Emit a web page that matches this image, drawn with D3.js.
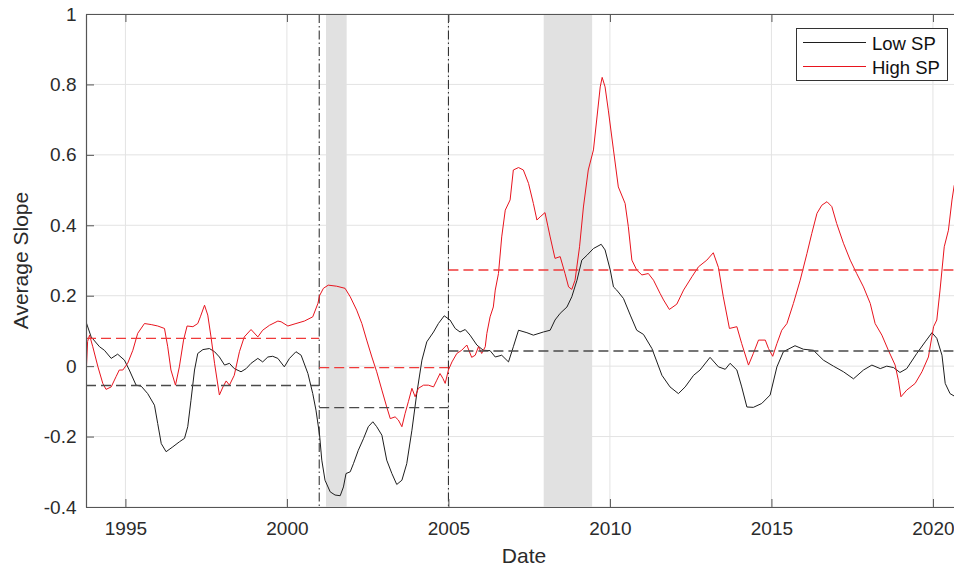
<!DOCTYPE html>
<html>
<head>
<meta charset="utf-8">
<script src="https://cdn.jsdelivr.net/npm/d3@7/dist/d3.min.js"></script>
<style>
  body { margin: 0; background: #fff; }
  svg { display: block; font-family: "Liberation Sans", Arial, Helvetica, sans-serif; }
</style>
</head>
<body>
<svg id="chart" width="954" height="569"></svg>
<script>
// Low SP series (decimal year, average slope)
const lowDates = [1993.78, 1993.94, 1994.20, 1994.35, 1994.56, 1994.76, 1994.97, 1995.12, 1995.33, 1995.49,
  1995.69, 1995.90, 1996.00, 1996.11, 1996.26, 1996.47, 1996.67, 1996.83, 1996.93, 1997.03,
  1997.14, 1997.24, 1997.40, 1997.60, 1997.76, 1997.91, 1998.07, 1998.22, 1998.37, 1998.58,
  1998.74, 1998.89, 1999.10, 1999.25, 1999.41, 1999.56, 1999.72, 1999.92, 2000.08, 2000.28,
  2000.44, 2000.65, 2000.80, 2000.90, 2001.01, 2001.08, 2001.18, 2001.34, 2001.49, 2001.65,
  2001.75, 2001.83, 2001.96, 2002.06, 2002.21, 2002.37, 2002.52, 2002.66, 2002.78, 2002.94,
  2003.09, 2003.25, 2003.40, 2003.56, 2003.71, 2003.87, 2004.02, 2004.18, 2004.33, 2004.54,
  2004.69, 2004.87, 2005.05, 2005.21, 2005.36, 2005.52, 2005.67, 2005.88, 2006.08, 2006.29,
  2006.45, 2006.65, 2006.86, 2007.01, 2007.17, 2007.43, 2007.63, 2007.94, 2008.15, 2008.30,
  2008.46, 2008.67, 2008.82, 2008.98, 2009.13, 2009.29, 2009.49, 2009.73, 2009.85, 2010.01,
  2010.11, 2010.21, 2010.42, 2010.63, 2010.83, 2011.04, 2011.30, 2011.61, 2011.86, 2012.12,
  2012.33, 2012.59, 2012.79, 2013.10, 2013.36, 2013.57, 2013.72, 2013.93, 2014.08, 2014.24,
  2014.44, 2014.70, 2014.96, 2015.17, 2015.37, 2015.73, 2015.99, 2016.30, 2016.61, 2016.92,
  2017.23, 2017.54, 2017.85, 2018.11, 2018.37, 2018.57, 2018.78, 2018.98, 2019.19, 2019.50,
  2019.76, 2019.97, 2020.12, 2020.28, 2020.38, 2020.53, 2020.66];
const lowValues = [0.126, 0.083, 0.055, 0.045, 0.022, 0.034, 0.017, -0.011, -0.054, -0.057,
  -0.078, -0.111, -0.163, -0.22, -0.243, -0.229, -0.215, -0.205, -0.172, -0.097,
  -0.011, 0.036, 0.047, 0.05, 0.041, 0.026, 0.003, 0.008, -0.007, -0.016,
  -0.007, 0.008, 0.022, 0.012, 0.026, 0.028, 0.022, -0.002, 0.022, 0.041,
  0.031, -0.021, -0.078, -0.125, -0.195, -0.267, -0.324, -0.357, -0.366, -0.368,
  -0.343, -0.305, -0.30, -0.277, -0.239, -0.206, -0.172, -0.158, -0.172, -0.196,
  -0.267, -0.305, -0.336, -0.324, -0.277, -0.182, -0.078, 0.017, 0.069, 0.097,
  0.121, 0.143, 0.131, 0.107, 0.097, 0.104, 0.088, 0.06, 0.045, 0.044,
  0.026, 0.031, 0.012, 0.055, 0.102, 0.095, 0.088, 0.097, 0.102, 0.131,
  0.15, 0.168, 0.197, 0.244, 0.301, 0.315, 0.334, 0.346, 0.33, 0.273,
  0.225, 0.216, 0.192, 0.145, 0.102, 0.09, 0.05, -0.026, -0.059, -0.078,
  -0.059, -0.026, -0.011, 0.025, -0.002, -0.009, 0.008, -0.011, -0.059, -0.116,
  -0.117, -0.106, -0.082, -0.002, 0.041, 0.058, 0.048, 0.045, 0.017, 0,
  -0.016, -0.036, -0.011, 0.003, -0.007, 0, -0.004, -0.018, -0.007, 0.036,
  0.069, 0.095, 0.079, 0.031, -0.049, -0.078, -0.085];

// High SP series
const highDates = [1993.78, 1993.83, 1993.89, 1993.99, 1994.15, 1994.30, 1994.40, 1994.56, 1994.71, 1994.81,
  1994.92, 1995.07, 1995.23, 1995.38, 1995.59, 1995.80, 1996.00, 1996.21, 1996.31, 1996.41,
  1996.55, 1996.67, 1996.80, 1996.91, 1997.09, 1997.24, 1997.32, 1997.45, 1997.55, 1997.65,
  1997.76, 1997.91, 1998.02, 1998.12, 1998.22, 1998.37, 1998.53, 1998.68, 1998.89, 1999.10,
  1999.25, 1999.46, 1999.72, 1999.82, 2000.03, 2000.28, 2000.54, 2000.80, 2000.96, 2001.01,
  2001.13, 2001.28, 2001.54, 2001.80, 2001.96, 2002.16, 2002.32, 2002.47, 2002.63, 2002.78,
  2002.94, 2003.09, 2003.20, 2003.35, 2003.45, 2003.56, 2003.66, 2003.76, 2003.87, 2003.97,
  2004.07, 2004.23, 2004.38, 2004.54, 2004.64, 2004.74, 2004.83, 2004.90, 2005.00, 2005.11,
  2005.26, 2005.41, 2005.57, 2005.72, 2005.83, 2005.93, 2006.03, 2006.14, 2006.19, 2006.29,
  2006.39, 2006.45, 2006.55, 2006.65, 2006.76, 2006.91, 2007.01, 2007.17, 2007.32, 2007.48,
  2007.63, 2007.74, 2007.84, 2007.99, 2008.15, 2008.30, 2008.46, 2008.61, 2008.72, 2008.82,
  2008.92, 2009.06, 2009.18, 2009.33, 2009.49, 2009.59, 2009.70, 2009.76, 2009.85, 2009.95,
  2010.11, 2010.26, 2010.47, 2010.57, 2010.68, 2010.83, 2010.99, 2011.19, 2011.35, 2011.55,
  2011.66, 2011.84, 2012.07, 2012.28, 2012.54, 2012.74, 2013.00, 2013.20, 2013.36, 2013.51,
  2013.70, 2013.93, 2014.08, 2014.29, 2014.44, 2014.60, 2014.81, 2014.91, 2015.04, 2015.17,
  2015.32, 2015.48, 2015.68, 2015.89, 2016.10, 2016.25, 2016.41, 2016.56, 2016.72, 2016.87,
  2017.02, 2017.23, 2017.44, 2017.64, 2017.85, 2018.06, 2018.21, 2018.42, 2018.62, 2018.83,
  2018.93, 2019.01, 2019.19, 2019.45, 2019.66, 2019.86, 2020.02, 2020.12, 2020.22, 2020.35,
  2020.48, 2020.59, 2020.66];
const highValues = [-0.03, 0.07, 0.088, 0.055, -0.002, -0.049, -0.066, -0.059, -0.03, -0.011,
  -0.011, 0.008, 0.045, 0.093, 0.121, 0.118, 0.114, 0.107, 0.055, -0.011,
  -0.054, -0.002, 0.074, 0.114, 0.112, 0.121, 0.14, 0.173, 0.145, 0.083,
  0.008, -0.082, -0.059, -0.042, -0.054, -0.026, 0.041, 0.083, 0.104, 0.083,
  0.102, 0.116, 0.128, 0.126, 0.114, 0.121, 0.128, 0.14, 0.178, 0.20,
  0.221, 0.23, 0.227, 0.221, 0.197, 0.159, 0.121, 0.074, 0.026, -0.016,
  -0.068, -0.116, -0.149, -0.144, -0.153, -0.172, -0.134, -0.101, -0.063, -0.087,
  -0.063, -0.054, -0.054, -0.059, -0.04, -0.021, -0.035, -0.049, -0.011, 0.012,
  0.036, 0.045, 0.06, 0.025, 0.031, 0.055, 0.036, 0.055, 0.093, 0.14,
  0.168, 0.216, 0.263, 0.367, 0.443, 0.472, 0.557, 0.564, 0.557, 0.519,
  0.462, 0.415, 0.424, 0.436, 0.367, 0.306, 0.311, 0.263, 0.225, 0.218,
  0.244, 0.339, 0.452, 0.557, 0.614, 0.699, 0.793, 0.82, 0.793, 0.727,
  0.614, 0.509, 0.462, 0.396, 0.301, 0.273, 0.259, 0.263, 0.244, 0.207,
  0.188, 0.161, 0.176, 0.216, 0.254, 0.282, 0.301, 0.322, 0.28, 0.197,
  0.107, 0.112, 0.064, 0.003, 0.036, 0.074, 0.074, 0.05, 0.028, 0.064,
  0.102, 0.121, 0.178, 0.244, 0.32, 0.377, 0.434, 0.457, 0.467, 0.453,
  0.405, 0.349, 0.301, 0.263, 0.225, 0.178, 0.121, 0.088, 0.045, 0.003,
  -0.04, -0.087, -0.068, -0.049, -0.016, 0.026, 0.112, 0.131, 0.216, 0.339,
  0.386, 0.472, 0.514];

// regime means between structural breaks
const regimeStart = [1993.78, 2001, 2005];
const regimeEnd = [2001, 2005, 2020.9];
const lowMeans = [-0.055, -0.118, 0.043];
const highMeans = [0.079, -0.004, 0.273];

const breakDates = [2001, 2005];
const recessionStart = [2001.21, 2007.95];
const recessionEnd = [2001.85, 2009.45];

const xTicks = [1995, 2000, 2005, 2010, 2015, 2020];
const yTicks = [-0.4, -0.2, 0, 0.2, 0.4, 0.6, 0.8, 1];
const seriesNames = ['Low SP', 'High SP'];
const seriesColors = ['#1e1e1e', '#e8141e'];

const svg = d3.select('#chart');
const margin = { top: 14, left: 86 };
const plotW = 876, plotH = 493;

const x = d3.scaleLinear().domain([1993.78, 2020.9]).range([0, plotW]);
const y = d3.scaleLinear().domain([-0.4, 1]).range([plotH, 0]);

const g = svg.append('g').attr('transform', `translate(${margin.left},${margin.top})`);

g.append('clipPath').attr('id', 'plotclip')
  .append('rect').attr('width', plotW).attr('height', plotH);

// grid
g.append('g').selectAll('line').data(xTicks).enter().append('line')
  .attr('x1', d => x(d)).attr('x2', d => x(d)).attr('y1', 0).attr('y2', plotH)
  .attr('stroke', '#e3e3e3').attr('stroke-width', 1);
g.append('g').selectAll('line').data(yTicks).enter().append('line')
  .attr('x1', 0).attr('x2', plotW).attr('y1', d => y(d)).attr('y2', d => y(d))
  .attr('stroke', '#e3e3e3').attr('stroke-width', 1);

const plot = g.append('g').attr('clip-path', 'url(#plotclip)');

// recession shading
plot.selectAll('.rec').data(recessionStart).enter().append('rect')
  .attr('class', 'rec')
  .attr('x', d => x(d))
  .attr('width', (d, i) => x(recessionEnd[i]) - x(d))
  .attr('y', 0).attr('height', plotH)
  .attr('fill', '#e1e1e1');

// break lines
plot.selectAll('.brk').data(breakDates).enter().append('line')
  .attr('x1', d => x(d)).attr('x2', d => x(d)).attr('y1', 0).attr('y2', plotH)
  .attr('stroke', '#222').attr('stroke-width', 1)
  .attr('stroke-dasharray', '9,3,1.5,3');

const line = d3.line().x(d => x(d[0])).y(d => y(d[1]));
const lowData = lowDates.map((d, i) => [d, lowValues[i]]);
const highData = highDates.map((d, i) => [d, highValues[i]]);

plot.append('path').datum(lowData).attr('d', line)
  .attr('fill', 'none').attr('stroke', seriesColors[0]).attr('stroke-width', 1);
plot.append('path').datum(highData).attr('d', line)
  .attr('fill', 'none').attr('stroke', seriesColors[1]).attr('stroke-width', 1);

// regime mean dashes
[[lowMeans, '#4a4a4a'], [highMeans, '#f03a3a']].forEach(([means, col]) => {
  plot.append('g').selectAll('line').data(means).enter().append('line')
    .attr('x1', (d, i) => x(regimeStart[i])).attr('x2', (d, i) => x(regimeEnd[i]))
    .attr('y1', d => y(d)).attr('y2', d => y(d))
    .attr('stroke', col).attr('stroke-width', 1.3)
    .attr('stroke-dasharray', '10,5');
});

// axes
const axisColor = '#555';
const textColor = '#2b2b2b';

const xAxis = g.append('g').attr('transform', `translate(0,${plotH})`)
  .call(d3.axisBottom(x).tickValues(xTicks).tickSizeInner(-8).tickSizeOuter(0)
    .tickPadding(14.5).tickFormat(d3.format('d')));
const xTop = g.append('g')
  .call(d3.axisTop(x).tickValues(xTicks).tickSizeInner(-8).tickSizeOuter(0).tickFormat(''));
const yAxis = g.append('g')
  .call(d3.axisLeft(y).tickValues(yTicks).tickSizeInner(-8).tickSizeOuter(0)
    .tickPadding(9.5).tickFormat(d => String(+d.toFixed(1))));

[xAxis, xTop, yAxis].forEach(a => {
  a.select('.domain').attr('stroke', axisColor).attr('stroke-width', 1.2);
  a.selectAll('.tick line').attr('stroke', axisColor).attr('stroke-width', 1);
  a.selectAll('.tick text').attr('fill', textColor).style('font-size', '19px');
});

// axis labels
svg.append('text')
  .attr('x', margin.left + plotW / 2).attr('y', 563)
  .attr('text-anchor', 'middle').attr('fill', textColor)
  .style('font-size', '21px').text('Date');
svg.append('text')
  .attr('transform', `translate(28,${margin.top + plotH / 2}) rotate(-90)`)
  .attr('text-anchor', 'middle').attr('fill', textColor)
  .style('font-size', '21px').text('Average Slope');

// legend
const legend = svg.append('g').attr('transform', 'translate(796.5,28.5)');
legend.append('rect').attr('width', 151).attr('height', 52)
  .attr('fill', '#fff').attr('stroke', '#333').attr('stroke-width', 1);
seriesNames.forEach((name, i) => {
  legend.append('line')
    .attr('x1', 6.5).attr('x2', 69.5).attr('y1', 14 + i * 24).attr('y2', 14 + i * 24)
    .attr('stroke', seriesColors[i]).attr('stroke-width', 1);
  legend.append('text')
    .attr('x', 75.5).attr('y', 21 + i * 24)
    .attr('fill', '#111').style('font-size', '18.5px').text(name);
});
</script>
</body>
</html>
